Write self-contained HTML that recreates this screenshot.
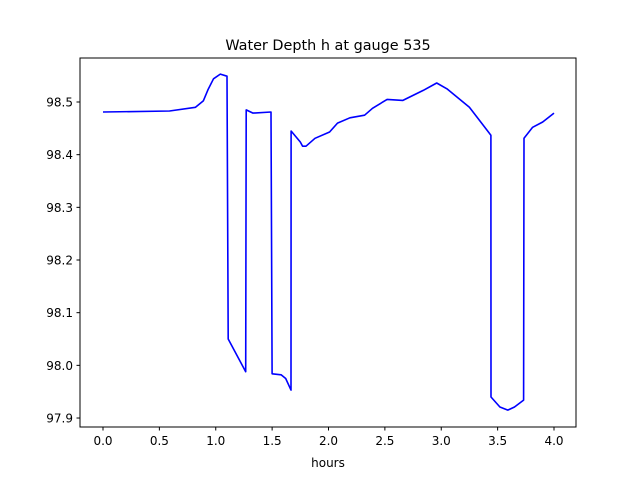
<!DOCTYPE html>
<html><head><meta charset="utf-8"><style>
body{margin:0;background:#fff}
svg{display:block;font-family:"DejaVu Sans","Liberation Sans",sans-serif}
</style></head><body>
<svg id="chart" width="640" height="480">
<rect width="640" height="480" fill="#fff"/>
<text x="328" y="50" text-anchor="middle" font-size="14.4">Water Depth h at gauge 535</text>
<text x="328" y="467" text-anchor="middle" font-size="12">hours</text>
<g id="xt"></g>
<g id="yt"></g>
<path id="ln" fill="none" stroke="#0000ff" stroke-width="1.6" stroke-linejoin="round"/>
<rect x="80" y="58" width="496" height="369" fill="none" stroke="#000" stroke-width="1"/>
</svg>
<script>
const hours=[0,0.59,0.82,0.89,0.93,0.98,1.04,1.10,1.11,1.266,1.27,1.33,1.49,1.50,1.58,1.62,1.667,1.668,1.77,1.80,1.75,1.79,1.88,2.01,2.08,2.19,2.32,2.39,2.52,2.66,2.84,2.96,3.05,3.25,3.44,3.441,3.52,3.59,3.65,3.73,3.734,3.81,3.90,4.0];
const depth=[98.481,98.483,98.49,98.502,98.523,98.544,98.553,98.549,98.05,97.988,98.485,98.479,98.481,97.984,97.982,97.975,97.953,98.445,98.416,98.416,98.424,98.416,98.431,98.443,98.46,98.47,98.475,98.488,98.505,98.503,98.522,98.536,98.525,98.49,98.437,97.94,97.921,97.915,97.921,97.934,98.431,98.452,98.462,98.479];
const xTicks=[0,0.5,1,1.5,2,2.5,3,3.5,4];
const yTicks=[97.9,98.0,98.1,98.2,98.3,98.4,98.5];
const NS="http://www.w3.org/2000/svg";
function sx(v){return 103+v*112.75;}
function sy(v){return 102-(v-98.5)*526.7;}
// fix ordering for points around 1.75 (keep monotone x)
const pts=hours.map((h,i)=>[h,depth[i]]);
pts.sort((a,b)=>a[0]-b[0]);
let d="";
pts.forEach((p,i)=>{d+=(i?"L":"M")+sx(p[0]).toFixed(1)+","+sy(p[1]).toFixed(1);});
document.getElementById("ln").setAttribute("d",d);
const xt=document.getElementById("xt"),yt=document.getElementById("yt");
xTicks.forEach(t=>{
 const l=document.createElementNS(NS,"line");
 
 
 l.setAttribute("x1",sx(t));l.setAttribute("x2",sx(t));l.setAttribute("y1",427);l.setAttribute("y2",430.5);l.setAttribute("stroke","#000");
 xt.appendChild(l);
 const tx=document.createElementNS(NS,"text");
 
 
 tx.setAttribute("x",sx(t));tx.setAttribute("y",445);tx.setAttribute("text-anchor","middle");tx.setAttribute("font-size","12");
 tx.textContent=t.toFixed(1);xt.appendChild(tx);
});
yTicks.forEach(t=>{
 const l=document.createElementNS(NS,"line");
 
 
 l.setAttribute("x1",76.5);l.setAttribute("x2",80);l.setAttribute("y1",sy(t));l.setAttribute("y2",sy(t));l.setAttribute("stroke","#000");
 yt.appendChild(l);
 const tx=document.createElementNS(NS,"text");
 
 
 tx.setAttribute("x",73);tx.setAttribute("y",sy(t)+4.5);tx.setAttribute("text-anchor","end");tx.setAttribute("font-size","12");
 tx.textContent=t.toFixed(1);yt.appendChild(tx);
});
</script>
</body></html>
